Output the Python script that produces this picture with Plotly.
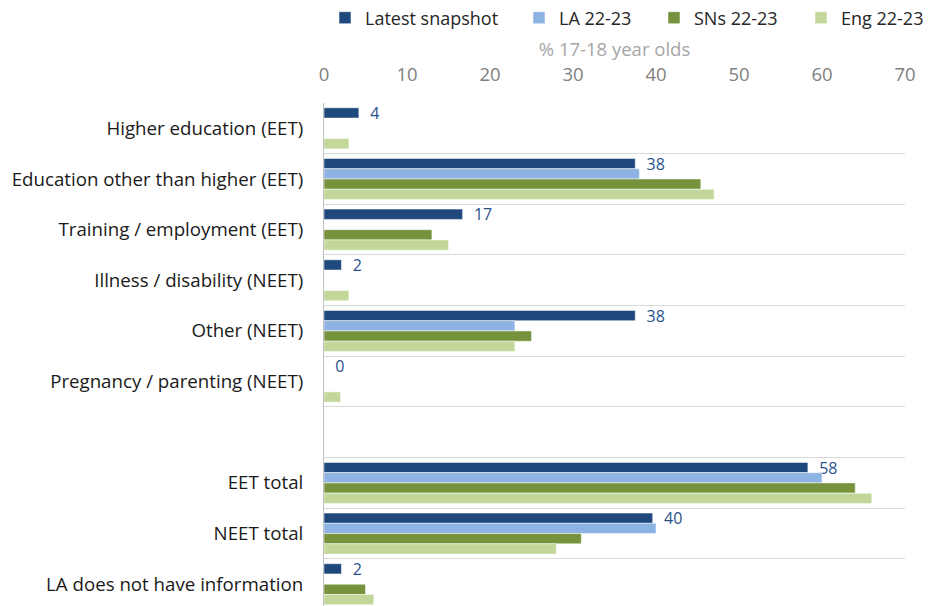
import plotly.graph_objects as go

# Destinations of 17-18 year olds (%), top to bottom; the blank row separates the totals
categories = [
    "Higher education (EET)",
    "Education other than higher (EET)",
    "Training / employment (EET)",
    "Illness / disability (NEET)",
    "Other (NEET)",
    "Pregnancy / parenting (NEET)",
    " ",
    "EET total",
    "NEET total",
    "LA does not have information",
]

latest_snapshot = [4.2, 37.5, 16.7, 2.1, 37.5, 0, None, 58.3, 39.6, 2.1]
la_22_23 = [None, 38, None, None, 23, None, None, 60, 40, None]
sns_22_23 = [None, 45.4, 13, None, 25, None, None, 64, 31, 5]
eng_22_23 = [3, 47, 15, 3, 23, 2, None, 66, 28, 6]

x_ticks = [0, 10, 20, 30, 40, 50, 60, 70]

series = [
    ("Latest snapshot", latest_snapshot, "#1F497D"),
    ("LA 22-23", la_22_23, "#8DB3E2"),
    ("SNs 22-23", sns_22_23, "#76923C"),
    ("Eng 22-23", eng_22_23, "#C4D79B"),
]

# one small legend per series so each entry sits where it should along the top
legend_ids = ["legend", "legend2", "legend3", "legend4"]
legend_left = [325, 519, 654, 801]

FONT = "Open Sans"
W, H = 928, 606

fig = go.Figure()
for (name, values, colour), lid in zip(series, legend_ids):
    kwargs = {}
    if name == "Latest snapshot":
        kwargs = dict(
            texttemplate="\u00a0\u00a0%{x:.0f}",
            textposition="outside",
            constraintext="none",
            textfont=dict(color="#2A5189", size=16, family=FONT),
            cliponaxis=False,
        )
    fig.add_trace(go.Bar(
        name=name,
        y=categories,
        x=values,
        orientation="h",
        legend=lid,
        marker=dict(color=colour, line=dict(color="white", width=0.5)),
        hoverinfo="x+y+name",
        **kwargs,
    ))

legend_common = dict(
    orientation="h",
    xref="container",
    yref="container",
    xanchor="left",
    yanchor="middle",
    y=1 - 18 / H,
    font=dict(size=18, color="#262626", family=FONT),
    itemwidth=30,
    bgcolor="rgba(0,0,0,0)",
)
legend_layout = {}
for lid, left in zip(legend_ids, legend_left):
    legend_layout[lid] = dict(legend_common, x=left / W)

fig.update_layout(
    width=W,
    height=H,
    margin=dict(l=324, r=23, t=103, b=0),
    paper_bgcolor="white",
    plot_bgcolor="white",
    barmode="group",
    bargap=0.19,
    bargroupgap=0,
    font=dict(family=FONT, size=16, color="#262626"),
    showlegend=True,
    xaxis=dict(
        side="top",
        range=[0, 70],
        tickvals=x_ticks,
        showgrid=False,
        zeroline=False,
        showline=False,
        tickfont=dict(size=18.5, color="#7F7F7F"),
        ticklabelstandoff=17,
        title=dict(text="% 17-18 year olds", font=dict(size=18.5, color="#A6A6A6"), standoff=9),
        ticks="",
    ),
    yaxis=dict(
        autorange=False,
        range=[9.43, -0.5],
        tickson="boundaries",
        showgrid=True,
        gridcolor="#D9D9D9",
        gridwidth=1,
        showline=True,
        linecolor="#BFBFBF",
        linewidth=1,
        ticks="",
        tickfont=dict(size=18.7, color="#1A1A1A"),
        ticklabelstandoff=16,
    ),
    **legend_layout,
)

fig.write_html("out.html")
